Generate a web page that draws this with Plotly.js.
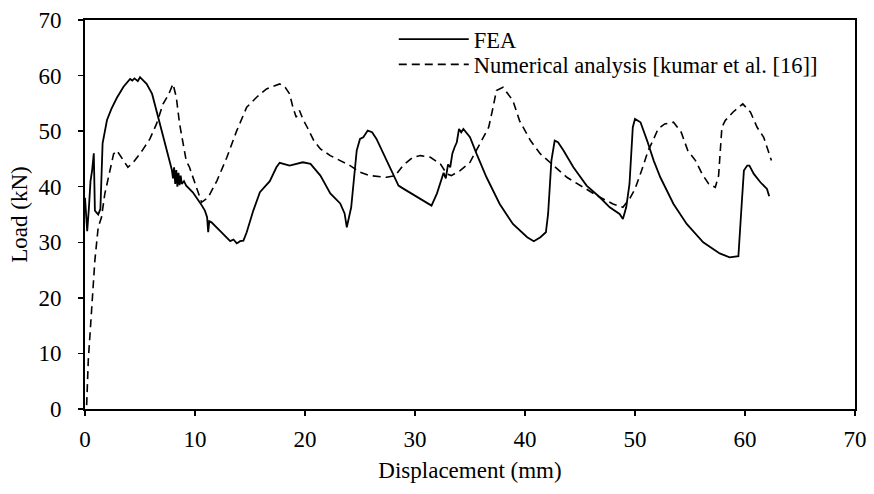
<!DOCTYPE html>
<html>
<head>
<meta charset="utf-8">
<script src="https://cdn.plot.ly/plotly-3.0.1.min.js"></script>
<style>html,body{margin:0;padding:0;background:#fff;}#chart{width:874px;height:494px;}</style>
</head>
<body>
<div id="chart"></div>
<script>
const feaX = [0,0.1,0.2,0.35,0.5,0.65,0.8,0.9,1.2,1.4,1.6,2.0,2.4,2.9,3.5,4.1,4.3,4.5,4.8,5.0,5.2,5.6,6.1,6.5,7.1,7.7,7.9,8.0,8.1,8.2,8.3,8.4,8.5,8.6,8.7,8.8,9.0,9.2,9.8,10.5,10.9,11.1,11.2,11.3,11.5,12.3,12.9,13.2,13.5,13.8,14.1,14.4,14.7,15.3,15.9,16.8,17.4,17.7,18.6,19.8,20.5,21.4,22.3,23.2,23.6,23.8,24.2,24.7,25.0,25.3,25.7,26.1,26.5,27.4,28.5,28.9,29.5,30.5,31.5,32.0,32.4,32.6,32.8,33.0,33.2,33.4,33.6,33.8,34.0,34.2,34.4,34.6,35.0,35.6,36.5,37.7,38.9,40.2,40.8,41.4,41.9,42.1,42.4,42.7,43.0,43.5,44.4,45.6,46.8,47.7,48.6,48.9,49.2,49.5,49.8,50.0,50.5,51.1,51.7,52.3,53.5,54.7,56.2,57.7,58.6,59.4,59.5,59.7,59.9,60.2,60.4,60.8,61.4,62.0,62.2];
const feaY = [38,35,32,36,41,43,46,35.7,35,36,47.8,52,54,56,58,59.4,59.1,59.5,59.0,59.7,59.3,58.5,56.7,53.7,49.5,44.7,43,41.5,43.5,40.5,43,40,42.5,40.3,42,40.5,41,40.2,39,37,35.7,34.5,31.8,33.8,33.6,32,30.7,30.2,30.5,29.8,30.2,30.3,31.8,35.7,39,41,43.5,44.3,43.8,44.4,44.1,42,38.8,37,35.2,32.7,36.3,46.5,48.6,48.9,50.1,49.8,48.6,44.7,40.2,39.7,39,37.9,36.6,38.8,41.1,42.5,41.5,44,43.5,46,47.1,48,50.4,49.8,50.4,49.9,48.9,45.9,41.7,36.9,33.3,30.9,30.2,30.9,31.8,35.1,44.7,48.3,48.0,46.5,43.5,40.2,38.1,36.3,35.1,34.2,36.3,40.5,50.7,52.2,51.6,48.3,44.7,41.7,36.9,33.3,30.0,28.0,27.3,27.5,31.5,36.9,42.9,43.8,43.8,42.3,40.8,39.6,38.3];

const numX = [0.15,0.3,0.6,0.9,1.2,1.5,1.8,2.3,2.6,2.9,3.3,3.9,4.4,5.2,5.9,6.5,7.1,7.6,8.0,8.3,8.6,8.9,9.2,9.5,10.0,10.6,11.2,12.0,12.9,13.8,14.7,15.6,16.5,17.7,18.2,18.6,18.9,19.2,19.5,19.8,20.2,20.8,21.4,22.3,23.2,24.1,25.0,25.9,27.4,28.2,28.9,29.8,30.5,31.4,32.3,32.9,33.3,34.1,35.0,35.9,36.7,37.1,37.4,38.0,38.9,39.5,40.5,41.4,42.6,43.8,45.3,46.8,48.0,48.9,49.5,50.0,50.6,51.2,51.7,52.1,52.7,53.5,54.2,54.8,55.5,56.1,56.7,57.3,57.6,57.7,57.9,58.2,58.9,59.8,60.5,61.1,61.7,62.1,62.4];
const numY = [0.7,8.8,17.8,26.8,32.7,34.5,38.7,43.5,45.9,46.5,45.3,43.5,44.4,46.5,48.6,51.3,54.9,56.6,58.5,56.1,51.3,47.7,44.7,43.5,40.5,37.2,38.1,41.1,45.3,50.1,54.3,56.1,57.6,58.5,57.9,56.7,54.3,52.5,53.7,52.2,50.7,48.3,46.8,45.6,44.7,43.8,42.6,42.0,41.7,42.0,43.8,45.3,45.6,45.3,44.1,42.3,42.0,42.9,44.4,47.7,50.7,54.3,57.3,57.9,55.5,51.9,48.3,45.9,43.8,41.7,39.9,38.1,36.9,36.3,37.8,39.6,42.9,46.5,48.6,50.4,51.3,51.6,49.8,46.5,44.7,42.3,40.5,39.9,42.0,45.3,50.7,51.9,53.4,54.9,53.4,50.7,48.9,46.5,44.7];

const seriesNames = ["FEA", "Numerical analysis [kumar et al. [16]]"];
const xTitle = "Displacement (mm)";
const yTitle = "Load (kN)";

const font = {family: "Liberation Serif", size: 23, color: "#000"};
const legFont = {family: "Liberation Serif", size: 22.5, color: "#000"};

const traces = [
  {x: feaX, y: feaY, name: seriesNames[0], type: "scatter", mode: "lines",
   line: {color: "#000", width: 1.8}, legend: "legend"},
  {x: numX, y: numY, name: seriesNames[1], type: "scatter", mode: "lines",
   line: {color: "#000", width: 1.6, dash: "8px,5px"}, legend: "legend2"}
];

const legBase = {xanchor: "left", yanchor: "middle", bgcolor: "rgba(0,0,0,0)",
                 font: legFont, itemwidth: 70, borderwidth: 0};

const layout = {
  width: 874, height: 494,
  margin: {l: 85, r: 19, t: 20, b: 85},
  paper_bgcolor: "#fff", plot_bgcolor: "#fff",
  font: font,
  showlegend: true,
  legend: Object.assign({x: 0.401, y: 0.950}, legBase),
  legend2: Object.assign({x: 0.401, y: 0.885}, legBase),
  xaxis: {range: [0, 70], dtick: 10, tick0: 0, showgrid: false, zeroline: false,
          showline: true, linecolor: "#000", linewidth: 1.8, mirror: true,
          ticks: "outside", ticklen: 5, tickcolor: "#000", tickwidth: 1.5,
          ticklabelstandoff: 4,
          tickfont: font, title: {text: xTitle, font: font, standoff: 10}},
  yaxis: {range: [0, 70], dtick: 10, tick0: 0, showgrid: false, zeroline: false,
          showline: true, linecolor: "#000", linewidth: 1.8, mirror: true,
          ticks: "outside", ticklen: 5, tickcolor: "#000", tickwidth: 1.5,
          ticklabelstandoff: 12,
          tickfont: font, title: {text: yTitle, font: font, standoff: 4}}
};

Plotly.newPlot("chart", traces, layout, {displayModeBar: false, staticPlot: true});
</script>
</body>
</html>
